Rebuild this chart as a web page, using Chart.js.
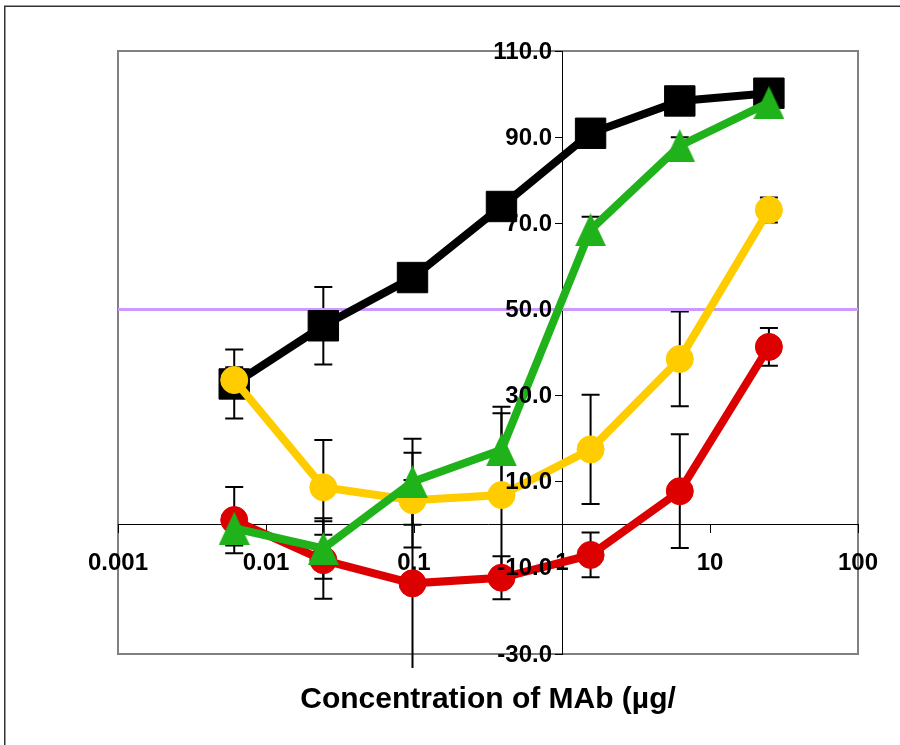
<!DOCTYPE html>
<html lang="en">
<head>
<meta charset="UTF-8">
<title>MAb concentration response</title>
<script src="https://cdn.jsdelivr.net/npm/chart.js@4.4.0/dist/chart.umd.min.js"></script>
<style>
  html, body { margin: 0; padding: 0; background: #fff; }
  canvas { display: block; }
</style>
</head>
<body>
<canvas id="myChart" width="900" height="745"></canvas>
<script>
  // 4-fold dilution series of the antibody (µg/mL)
  const conc = [0.0061, 0.0244, 0.0977, 0.39, 1.56, 6.25, 25];

  const blackVals = [32.7, 46.2, 57.4, 73.9, 90.9, 98.4, 100.2];
  const blackErr = [8, 9, 2, 2, 2, 2, 2];
  const greenVals = [-0.8, -5.5, 10.0, 17.4, 68.5, 88.0, 98.0];
  const greenErr = [4, 7, 10, 10, 3, 2, 2];
  const yellowVals = [33.6, 8.7, 5.7, 6.9, 17.5, 38.5, 73.1];
  const yellowErr = [3, 11, 11, 19, 12.7, 11, 2.9];
  const redVals = [1.1, -8.2, -13.6, -12.3, -7.0, 7.8, 41.3];
  const redErr = [7.7, 9, 24, 5, 5.2, 13.2, 4.4];

  const cutoff = 50;
  const xTicks = [0.001, 0.01, 0.1, 1, 10, 100];
  const yTicks = [-30, -10, 10, 30, 50, 70, 90, 110];

  const FONT = 'Arial, "Liberation Sans", sans-serif';

  function pts(vals) {
    return conc.map((x, i) => ({ x: x, y: vals[i] }));
  }

  // triangle marker centred on its bounding box
  function triangleMarker(color, w, h) {
    const c = document.createElement('canvas');
    c.width = w;
    c.height = h;
    const g = c.getContext('2d');
    g.fillStyle = color;
    g.beginPath();
    g.moveTo(w / 2, 0);
    g.lineTo(w, h);
    g.lineTo(0, h);
    g.closePath();
    g.fill();
    return c;
  }

  // dataset index -> error array (drawn under the markers)
  const errorSets = [[0, greenErr], [1, redErr], [2, yellowErr], [3, blackErr]];

  const framePlugin = {
    id: 'frame',
    beforeDraw(chart) {
      const ctx = chart.ctx, a = chart.chartArea;
      ctx.save();
      ctx.fillStyle = '#fff';
      ctx.fillRect(0, 0, chart.width, chart.height);
      ctx.strokeStyle = '#808080';
      ctx.lineWidth = 2;
      ctx.strokeRect(a.left, a.top, a.right - a.left, a.bottom - a.top);
      ctx.strokeStyle = '#333';
      ctx.lineWidth = 1.5;
      ctx.beginPath();
      ctx.moveTo(4.75, chart.height);
      ctx.lineTo(4.75, 6.25);
      ctx.lineTo(chart.width, 6.25);
      ctx.stroke();
      ctx.restore();
    },
    afterDraw(chart) {
      const ctx = chart.ctx, a = chart.chartArea;
      const x = chart.scales.x, y = chart.scales.y;
      ctx.save();
      ctx.fillStyle = '#000';
      // value labels of the y axis, sitting left of the axis crossing at x = 1
      ctx.font = 'bold 24px ' + FONT;
      ctx.textAlign = 'right';
      ctx.textBaseline = 'middle';
      const ax = x.getPixelForValue(1);
      yTicks.forEach(v => {
        ctx.fillText(v.toFixed(1), ax - 10, y.getPixelForValue(v) + 1);
      });
      ctx.font = 'bold 30px ' + FONT;
      ctx.textAlign = 'center';
      ctx.textBaseline = 'alphabetic';
      ctx.fillText('Concentration of MAb (µg/', (a.left + a.right) / 2, 708);
      ctx.restore();
    }
  };

  const errorBars = {
    id: 'errorBars',
    beforeDatasetsDraw(chart) {
      const ctx = chart.ctx, a = chart.chartArea, y = chart.scales.y;
      ctx.save();
      ctx.beginPath();
      ctx.rect(0, 0, chart.width, a.bottom + 14);
      ctx.clip();
      ctx.strokeStyle = '#000';
      ctx.lineWidth = 2;
      errorSets.forEach(([idx, errs]) => {
        const meta = chart.getDatasetMeta(idx);
        const data = chart.data.datasets[idx].data;
        meta.data.forEach((pt, i) => {
          const top = y.getPixelForValue(data[i].y + errs[i]);
          const bot = y.getPixelForValue(data[i].y - errs[i]);
          ctx.beginPath();
          ctx.moveTo(pt.x, top);
          ctx.lineTo(pt.x, bot);
          ctx.moveTo(pt.x - 9, top);
          ctx.lineTo(pt.x + 9, top);
          ctx.moveTo(pt.x - 9, bot);
          ctx.lineTo(pt.x + 9, bot);
          ctx.stroke();
        });
      });
      ctx.restore();
    }
  };

  function series(vals, color, style, radius) {
    return {
      data: pts(vals),
      borderColor: color,
      backgroundColor: color,
      borderWidth: 8,
      pointStyle: style,
      pointRadius: radius,
      pointBorderWidth: 1,
      pointBackgroundColor: color,
      pointBorderColor: color,
      tension: 0,
      clip: false
    };
  }

  const ctx = document.getElementById('myChart').getContext('2d');
  const myChart = new Chart(ctx, {
    type: 'line',
    data: {
      datasets: [
        series(greenVals, '#20B21A', triangleMarker('#20B21A', 31, 33), 16),
        series(redVals, '#DD0000', 'circle', 13.5),
        series(yellowVals, '#FFCC00', 'circle', 13.5),
        series(blackVals, '#000000', 'rect', 21.5),
        {
          data: [{ x: 0.001, y: cutoff }, { x: 100, y: cutoff }],
          borderColor: '#CC99FF',
          borderWidth: 3,
          pointRadius: 0
        }
      ]
    },
    options: {
      responsive: false,
      animation: false,
      devicePixelRatio: 1,
      layout: { padding: { left: 118, right: 42, top: 51, bottom: 91 } },
      plugins: { legend: { display: false }, tooltip: { enabled: false } },
      scales: {
        x: {
          type: 'logarithmic',
          min: 0.001,
          max: 100,
          position: { y: 0 },
          afterBuildTicks: s => { s.ticks = xTicks.map(v => ({ value: v })); },
          grid: { drawOnChartArea: false, tickLength: 8, tickColor: '#000', tickWidth: 1 },
          border: { color: '#000', width: 1 },
          ticks: {
            color: '#000',
            font: { family: FONT, size: 24, weight: 'bold' },
            padding: 16,
            maxRotation: 0,
            autoSkip: false,
            callback: v => String(v)
          }
        },
        y: {
          type: 'linear',
          min: -30,
          max: 110,
          position: { x: 1 },
          afterBuildTicks: s => { s.ticks = yTicks.map(v => ({ value: v })); },
          grid: { drawOnChartArea: false, tickLength: 7, tickColor: '#000', tickWidth: 1 },
          border: { color: '#000', width: 1 },
          ticks: { display: false }
        }
      }
    },
    plugins: [framePlugin, errorBars]
  });
</script>
</body>
</html>
